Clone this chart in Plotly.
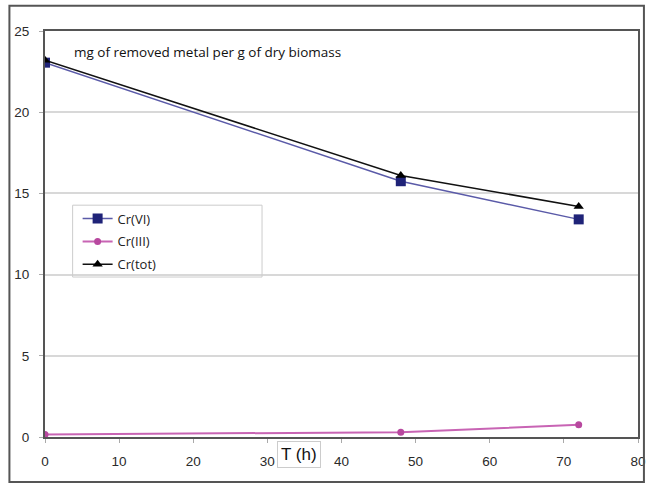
import plotly.graph_objects as go

# time points (h)
t_hours = [0, 48, 72]

# mg of removed metal per g of dry biomass
cr_vi = [23.05, 15.75, 13.4]
cr_iii = [0.15, 0.3, 0.75]
cr_tot = [23.2, 16.1, 14.2]

x_ticks = [0, 10, 20, 30, 40, 50, 60, 70, 80]
y_ticks = [0, 5, 10, 15, 20, 25]

series = [
    ("Cr(VI)", cr_vi, "#5a5aa8", "#1f2378", "square", 10, 1.5),
    ("Cr(III)", cr_iii, "#c864b4", "#b8489f", "circle", 7, 2),
    ("Cr(tot)", cr_tot, "#111111", "#000000", "triangle-up", 9, 1.5),
]

fig = go.Figure()

for i, (name, vals, lc, mc, sym, size, lw) in enumerate(series):
    fig.add_trace(
        go.Scatter(
            x=t_hours,
            y=vals,
            mode="lines+markers",
            name=name,
            legendgroup=f"g{i}",
            line={"color": lc, "width": lw},
            marker={"symbol": sym, "size": size, "color": mc},
        )
    )

font = "Liberation Sans Narrow, Arial Narrow, Liberation Sans, Arial"

fig.update_layout(
    width=653,
    height=484,
    margin={"l": 45, "r": 7, "t": 31, "b": 47},
    paper_bgcolor="white",
    plot_bgcolor="white",
    font={"family": font, "size": 13, "color": "#2a2a2a"},
    showlegend=True,
    legend={
        "x": 0.055,
        "y": 0.575,
        "xanchor": "left",
        "yanchor": "top",
        "bgcolor": "rgba(0,0,0,0)",
        "borderwidth": 0,
        "tracegroupgap": 3,
        "font": {"family": "Open Sans, Liberation Sans", "size": 13, "color": "#222222"},
    },
    xaxis={
        "range": [0, 80],
        "tickvals": x_ticks,
        "showgrid": False,
        "zeroline": False,
        "showline": True,
        "linecolor": "#555555",
        "linewidth": 2,
        "mirror": True,
        "ticks": "outside",
        "ticklen": 4,
        "tickcolor": "#aaaaaa",
        "ticklabelstandoff": 7,
        "tickfont": {"size": 13.5},
    },
    yaxis={
        "range": [0, 25],
        "tickvals": y_ticks,
        "showgrid": True,
        "gridcolor": "#d8d8d8",
        "gridwidth": 1.5,
        "zeroline": False,
        "showline": True,
        "linecolor": "#555555",
        "linewidth": 2,
        "mirror": True,
        "ticks": "outside",
        "ticklen": 4,
        "tickcolor": "#aaaaaa",
        "ticklabelstandoff": 7,
        "tickfont": {"size": 13.5},
    },
    shapes=[
        # outer chart frame
        {
            "type": "rect", "xref": "paper", "yref": "paper",
            "x0": -0.06, "x1": 1.01, "y0": -0.111, "y1": 1.062,
            "line": {"color": "#555555", "width": 2},
        },
        # legend box
        {
            "type": "rect", "xref": "paper", "yref": "paper",
            "x0": 0.0466, "x1": 0.366, "y0": 0.394, "y1": 0.571,
            "line": {"color": "#cccccc", "width": 1},
        },
    ],
    annotations=[
        {
            "text": "mg of removed metal per g of dry biomass",
            "xref": "paper", "yref": "paper",
            "x": 0.046, "y": 0.948,
            "xanchor": "left", "yanchor": "middle",
            "showarrow": False,
            "font": {"family": "Open Sans, Liberation Sans", "size": 13.5, "color": "#111111"},
        },
        {
            "text": "T (h)",
            "xref": "paper", "yref": "paper",
            "x": 0.428, "y": -0.042,
            "xanchor": "center", "yanchor": "middle",
            "showarrow": False,
            "bgcolor": "white",
            "bordercolor": "#cccccc",
            "borderwidth": 1,
            "borderpad": 3,
            "font": {"family": "Liberation Sans", "size": 17, "color": "#111111"},
        },
    ],
)

fig.write_html(
    "out.html",
    config={"displayModeBar": False},
    post_script="document.body.style.margin='0';",
)
